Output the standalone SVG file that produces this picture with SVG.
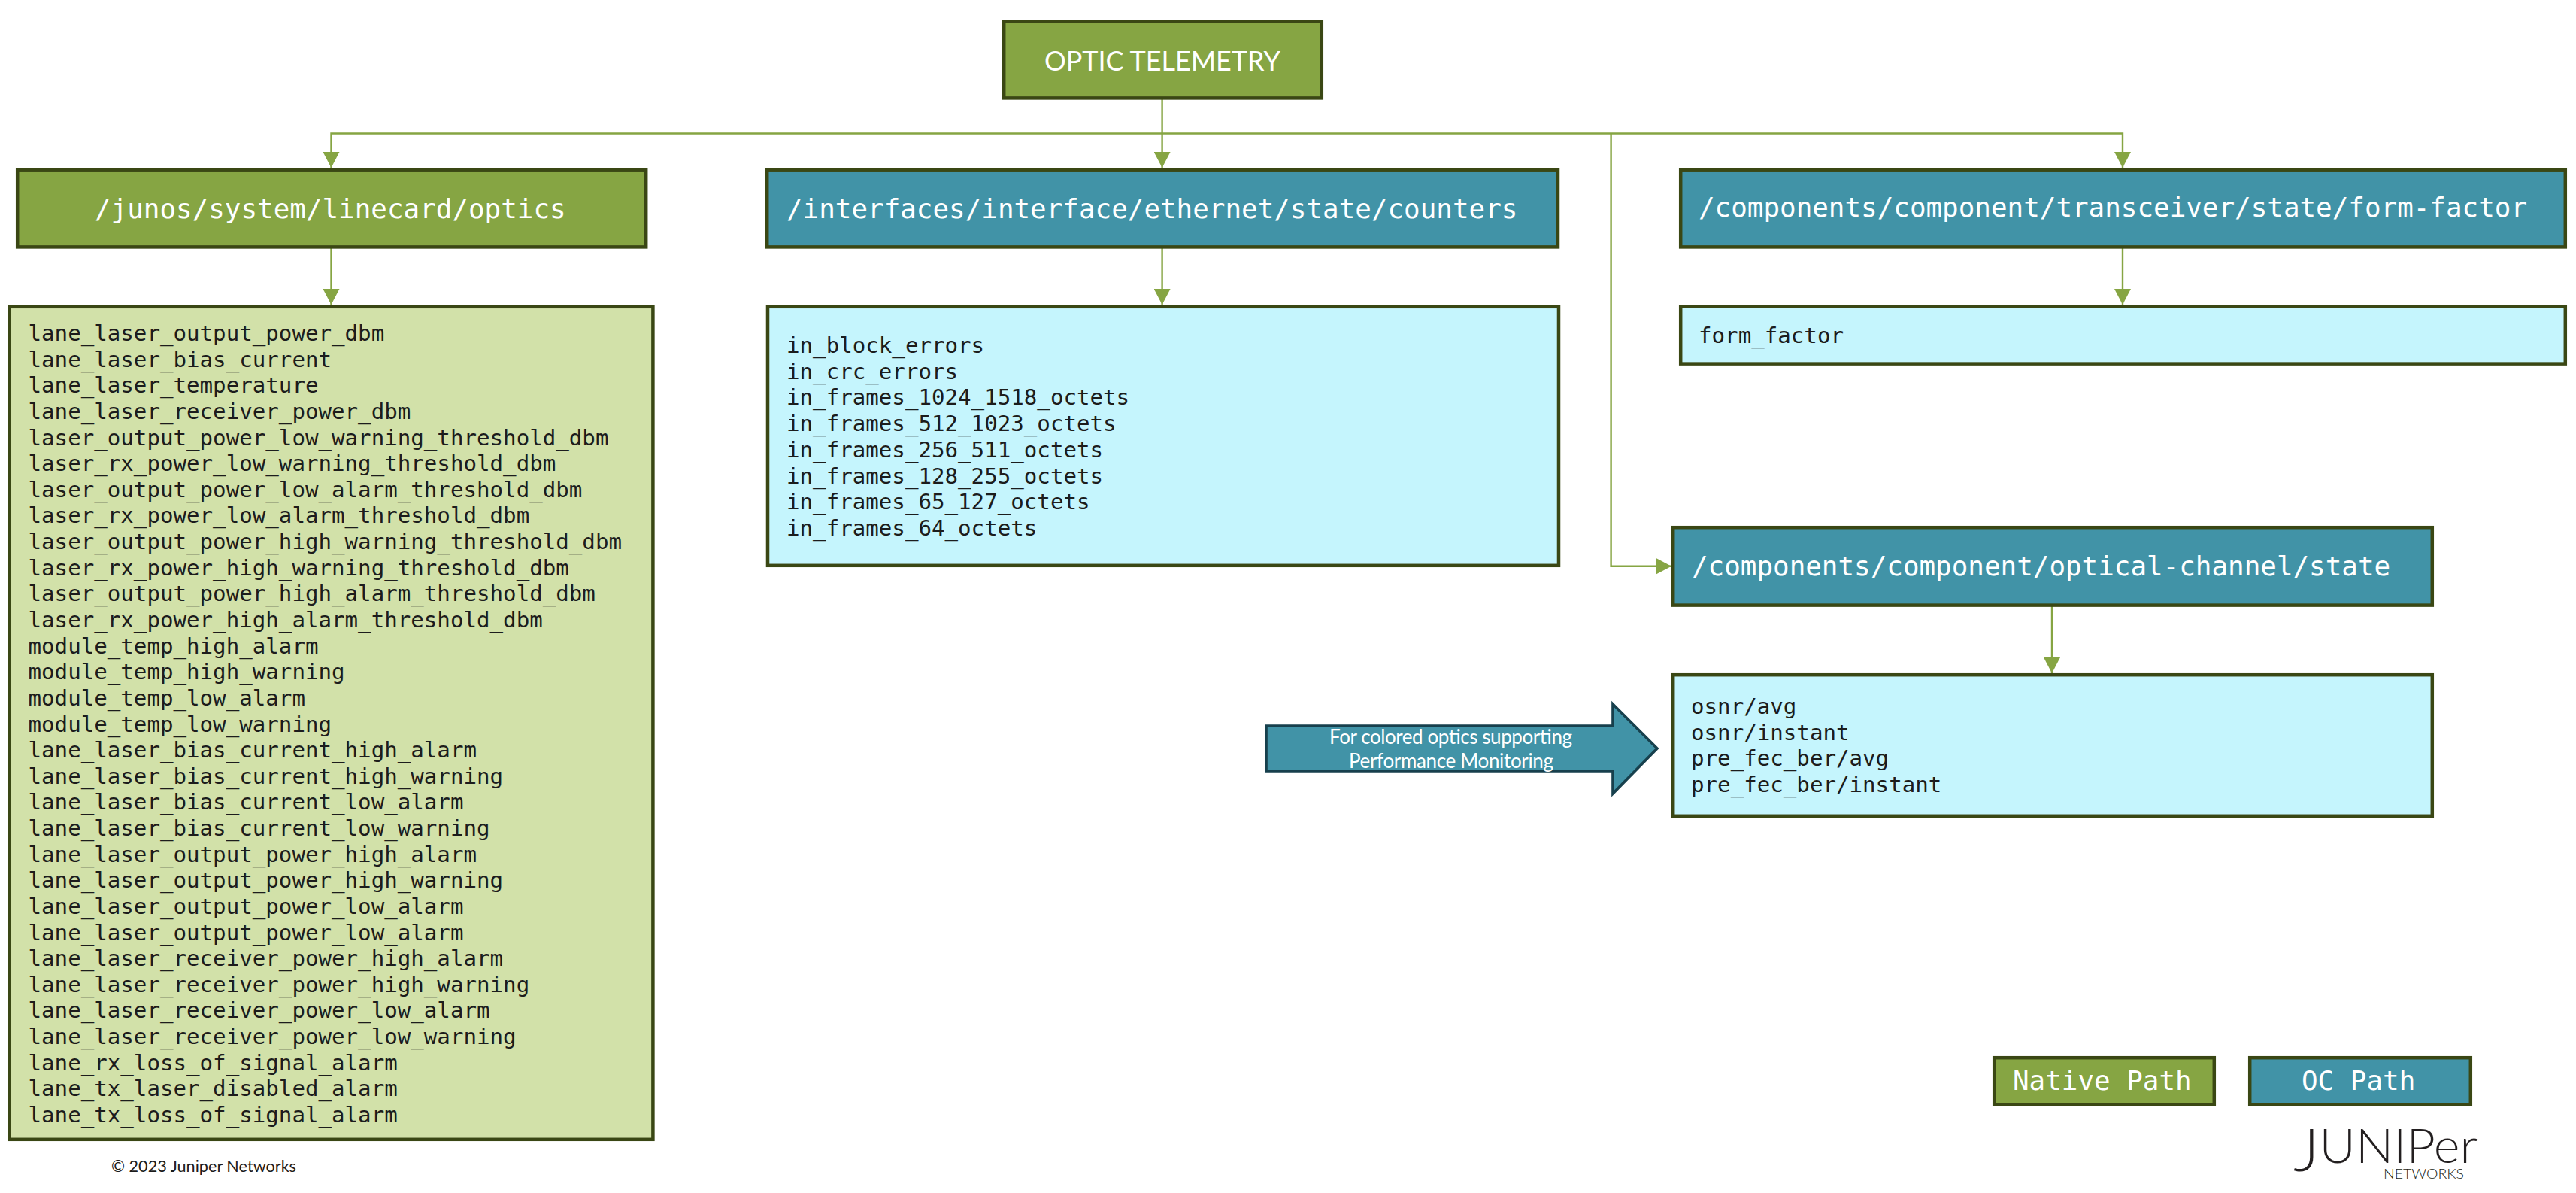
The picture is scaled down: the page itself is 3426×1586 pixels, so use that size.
<svg xmlns="http://www.w3.org/2000/svg" width="3426" height="1586" viewBox="0 0 3426 1586">
<style>
.box{stroke:#3a4714;stroke-width:4.5}
.g{fill:#86a543}.t{fill:#4193a7}.lg{fill:#d2e1a9}.lb{fill:#c5f5fd}
.h{font-family:"DejaVu Sans Mono",monospace;font-size:35.9px;fill:#fff}
.m{font-family:"DejaVu Sans Mono",monospace;font-size:29.15px;fill:#1c1c1c}
.l{font-family:Lato,sans-serif;fill:#fff}
.c{fill:none;stroke:#86a543;stroke-width:2.4}
</style>
<defs>
<marker id="a" markerUnits="userSpaceOnUse" markerWidth="22" markerHeight="22" refX="21" refY="11" orient="auto"><path d="M0,0L21,11L0,22Z" fill="#86a543"/></marker>
</defs>
<rect width="3426" height="1586" fill="#fff"/>
<g id="connectors">
<path class="c" d="M1545.6,132V223" marker-end="url(#a)"/>
<path class="c" d="M1545.6,177.5H440.5V223" marker-end="url(#a)"/>
<path class="c" d="M1545.6,177.5H2823V223" marker-end="url(#a)"/>
<path class="c" d="M440.5,330V405" marker-end="url(#a)"/>
<path class="c" d="M1545.6,330V405" marker-end="url(#a)"/>
<path class="c" d="M2823,330V405" marker-end="url(#a)"/>
<path class="c" d="M2142.6,177.5V752.7H2223" marker-end="url(#a)"/>
<path class="c" d="M2729,806V895" marker-end="url(#a)"/>
</g>
<g id="optic-telemetry">
<rect class="box g" x="1335.2" y="28.7" width="422.6" height="101.700"/>
<text class="l" x="1389" y="94" font-size="36" textLength="314">OPTIC TELEMETRY</text>
</g>
<g id="junos-path">
<rect class="box g" x="23.200" y="225.7" width="836" height="102.700"/>
<text class="h" x="126" y="290">/junos/system/linecard/optics</text>
</g>
<g id="junos-list">
<rect class="box lg" x="12.700" y="407.800" width="855.700" height="1107"/>
<text class="m" x="37.5" y="453">lane_laser_output_power_dbm</text>
<text class="m" x="37.5" y="487.6">lane_laser_bias_current</text>
<text class="m" x="37.5" y="522.3">lane_laser_temperature</text>
<text class="m" x="37.5" y="556.9">lane_laser_receiver_power_dbm</text>
<text class="m" x="37.5" y="591.5">laser_output_power_low_warning_threshold_dbm</text>
<text class="m" x="37.5" y="626.2">laser_rx_power_low_warning_threshold_dbm</text>
<text class="m" x="37.5" y="660.8">laser_output_power_low_alarm_threshold_dbm</text>
<text class="m" x="37.5" y="695.4">laser_rx_power_low_alarm_threshold_dbm</text>
<text class="m" x="37.5" y="730">laser_output_power_high_warning_threshold_dbm</text>
<text class="m" x="37.5" y="764.7">laser_rx_power_high_warning_threshold_dbm</text>
<text class="m" x="37.5" y="799.3">laser_output_power_high_alarm_threshold_dbm</text>
<text class="m" x="37.5" y="833.9">laser_rx_power_high_alarm_threshold_dbm</text>
<text class="m" x="37.5" y="868.6">module_temp_high_alarm</text>
<text class="m" x="37.5" y="903.2">module_temp_high_warning</text>
<text class="m" x="37.5" y="937.8">module_temp_low_alarm</text>
<text class="m" x="37.5" y="972.5">module_temp_low_warning</text>
<text class="m" x="37.5" y="1007.1">lane_laser_bias_current_high_alarm</text>
<text class="m" x="37.5" y="1041.7">lane_laser_bias_current_high_warning</text>
<text class="m" x="37.5" y="1076.3">lane_laser_bias_current_low_alarm</text>
<text class="m" x="37.5" y="1111">lane_laser_bias_current_low_warning</text>
<text class="m" x="37.5" y="1145.6">lane_laser_output_power_high_alarm</text>
<text class="m" x="37.5" y="1180.2">lane_laser_output_power_high_warning</text>
<text class="m" x="37.5" y="1214.9">lane_laser_output_power_low_alarm</text>
<text class="m" x="37.5" y="1249.5">lane_laser_output_power_low_alarm</text>
<text class="m" x="37.5" y="1284.1">lane_laser_receiver_power_high_alarm</text>
<text class="m" x="37.5" y="1318.8">lane_laser_receiver_power_high_warning</text>
<text class="m" x="37.5" y="1353.4">lane_laser_receiver_power_low_alarm</text>
<text class="m" x="37.5" y="1388">lane_laser_receiver_power_low_warning</text>
<text class="m" x="37.5" y="1422.6">lane_rx_loss_of_signal_alarm</text>
<text class="m" x="37.5" y="1457.3">lane_tx_laser_disabled_alarm</text>
<text class="m" x="37.5" y="1491.9">lane_tx_loss_of_signal_alarm</text>
</g>
<g id="interfaces-path">
<rect class="box t" x="1020.200" y="225.7" width="1051.800" height="102.700"/>
<text class="h" x="1046" y="290">/interfaces/interface/ethernet/state/counters</text>
</g>
<g id="interfaces-list">
<rect class="box lb" x="1021" y="407.800" width="1052" height="344"/>
<text class="m" x="1046" y="469">in_block_errors</text>
<text class="m" x="1046" y="503.7">in_crc_errors</text>
<text class="m" x="1046" y="538.4">in_frames_1024_1518_octets</text>
<text class="m" x="1046" y="573.1">in_frames_512_1023_octets</text>
<text class="m" x="1046" y="607.8">in_frames_256_511_octets</text>
<text class="m" x="1046" y="642.5">in_frames_128_255_octets</text>
<text class="m" x="1046" y="677.2">in_frames_65_127_octets</text>
<text class="m" x="1046" y="711.9">in_frames_64_octets</text>
</g>
<g id="form-factor-path">
<rect class="box t" x="2235.200" y="225.7" width="1176.600" height="102.700"/>
<text class="h" x="2259" y="288">/components/component/transceiver/state/form-factor</text>
</g>
<g id="form-factor-list">
<rect class="box lb" x="2235.200" y="407.600" width="1176.600" height="76"/>
<text class="m" x="2259" y="456">form_factor</text>
</g>
<g id="optical-channel-path">
<rect class="box t" x="2225.200" y="701.200" width="1009.600" height="103.400"/>
<text class="h" x="2250" y="765">/components/component/optical-channel/state</text>
</g>
<g id="optical-channel-list">
<rect class="box lb" x="2225.200" y="897.200" width="1009.600" height="187.600"/>
<text class="m" x="2249" y="949">osnr/avg</text>
<text class="m" x="2249" y="983.6">osnr/instant</text>
<text class="m" x="2249" y="1018.300">pre_fec_ber/avg</text>
<text class="m" x="2249" y="1052.900">pre_fec_ber/instant</text>
</g>
<g id="colored-optics-note">
<path d="M1684,965H2145V936L2204,995L2145,1055V1025H1684Z" fill="#4193a7" stroke="#17404d" stroke-width="3.600"/>
<text class="l" x="1929.500" y="989" font-size="26" text-anchor="middle" textLength="323">For colored optics supporting</text>
<text class="l" x="1930" y="1020.500" font-size="26" text-anchor="middle" textLength="272">Performance Monitoring</text>
</g>
<g id="legend-native">
<rect class="box g" x="2652.200" y="1406.200" width="292.600" height="62.300"/>
<text class="h" x="2677" y="1449">Native Path</text>
</g>
<g id="legend-oc">
<rect class="box t" x="2992.200" y="1406.200" width="293.600" height="62.300"/>
<text class="h" x="3061" y="1449">OC Path</text>
</g>
<g id="juniper-logo">
<text x="3050" y="1557" font-family="Lato,sans-serif" font-weight="300" font-size="63" fill="#231f20" textLength="245" lengthAdjust="spacingAndGlyphs"><tspan font-size="79">J</tspan><tspan dy="-11">UNIPer</tspan></text>
<text x="3170" y="1567" font-family="Lato,sans-serif" font-weight="300" font-size="18" fill="#231f20" textLength="107" lengthAdjust="spacingAndGlyphs">NETWORKS</text>
</g>
<g id="copyright">
<text x="148" y="1558" font-family="Lato,sans-serif" font-size="22" fill="#1c1c1c" textLength="246" lengthAdjust="spacingAndGlyphs">© 2023 Juniper Networks</text>
</g>
</svg>
